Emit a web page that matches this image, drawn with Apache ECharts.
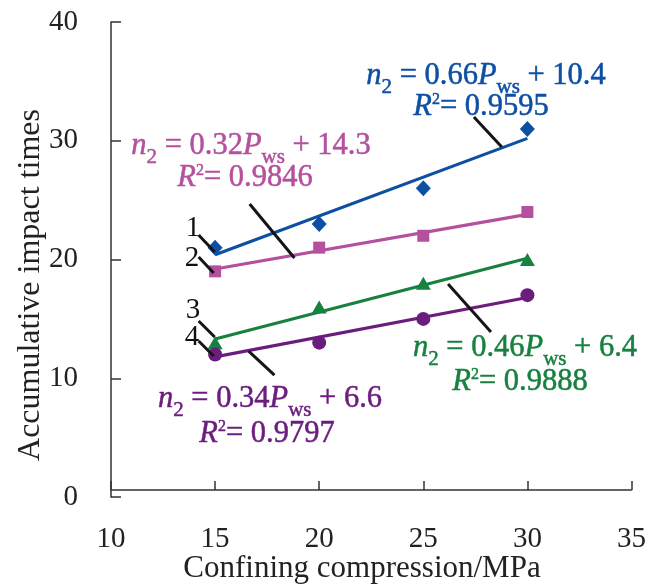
<!DOCTYPE html>
<html>
<head>
<meta charset="utf-8">
<script src="https://cdn.jsdelivr.net/npm/echarts@6/dist/echarts.min.js"></script>
<style>
html,body{margin:0;padding:0;background:#fff;}
#chart{width:649px;height:584px;}
</style>
</head>
<body>
<div id="chart"></div>
<script>
// ---- data ----
const pressure = [15, 20, 25, 30];
const series1 = [21, 23, 26, 31];   // diamonds (blue)
const series2 = [19, 21, 22, 24];   // squares (pink)
const series3 = [13, 16, 18, 20];   // triangles (green)
const series4 = [12, 13, 15, 17];   // circles (purple)
const fitX = [15, 30];
const fit1 = [20.4, 30.2];
const fit2 = [19.2, 23.8];
const fit3 = [13.3, 20.1];
const fit4 = [11.8, 16.8];
// leader lines: [x1, y1, x2, y2] in data units
const leader1 = [27.43, 32.0, 28.77, 29.47];
const leader2 = [16.66, 24.67, 18.81, 20.13];
const leader3 = [26.19, 17.94, 28.25, 13.89];
const leader4 = [16.61, 12.29, 17.85, 10.27];
const tagLeader1 = [14.21, 22.06, 14.98, 20.63];
const tagLeader2 = [14.21, 20.21, 14.93, 18.86];
const tagLeader3 = [14.21, 14.82, 14.98, 13.47];
const tagLeader4 = [14.21, 13.14, 14.93, 11.87];
const seriesTags = ['1', '2', '3', '4'];
const eqSlopes = ['0.66', '0.32', '0.46', '0.34'];
const eqIntercepts = ['10.4', '14.3', '6.4', '6.6'];
const eqR2 = ['0.9595', '0.9846', '0.9888', '0.9797'];

const C1 = '#0d4fa3', C2 = '#b4509d', C3 = '#17813f', C4 = '#6b1d7d';
const FONT = '"Liberation Serif", "Times New Roman", serif';

const pairs = (xs, ys) => xs.map((x, i) => [x, ys[i]]);
const seg = a => ({coords: [[a[0], a[1]], [a[2], a[3]]]});

const EQ = 30.5;
const rich = {
  r: {fontFamily: FONT, fontSize: EQ, lineHeight: 40},
  i: {fontFamily: FONT, fontSize: EQ, fontStyle: 'italic', lineHeight: 40},
  sub: {fontFamily: FONT, fontSize: 21, lineHeight: 18, padding: [22, 0, 0, 0]},
  sup: {fontFamily: FONT, fontSize: 16, lineHeight: 26, padding: [0, 0, 14, 0]}
};
function eqText(k, x, y, color) {
  return {
    type: 'text', x: x, y: y, z: 100,
    style: {
      text: '{i|n}{sub|2}{r| = ' + eqSlopes[k] + '}{i|P}{sub|ws}{r| + ' + eqIntercepts[k] + '}',
      rich: rich, fill: color, stroke: color, lineWidth: 0.5, align: 'center', verticalAlign: 'middle'
    }
  };
}
function r2Text(k, x, y, color) {
  return {
    type: 'text', x: x, y: y, z: 100,
    style: {
      text: '{i|R}{sup|2}{r|= ' + eqR2[k] + '}',
      rich: rich, fill: color, stroke: color, lineWidth: 0.5, align: 'center', verticalAlign: 'middle'
    }
  };
}
function tagText(k, x, y) {
  return {
    type: 'text', x: x, y: y, z: 100,
    style: {text: seriesTags[k], font: '29px ' + FONT, fill: '#111', align: 'center', verticalAlign: 'middle'}
  };
}

const chart = echarts.init(document.getElementById('chart'), null, {renderer: 'canvas'});
const option = {
  animation: false,
  backgroundColor: '#fff',
  grid: {left: 111, right: 16, top: 22, bottom: 87},
  xAxis: {
    type: 'value', min: 10, max: 35, interval: 5, offset: -7,
    axisLine: {onZero: false, lineStyle: {color: '#333', width: 1.5}},
    axisTick: {inside: true, length: 9, lineStyle: {color: '#333', width: 1.5}},
    axisLabel: {fontFamily: FONT, fontSize: 29, color: '#222', margin: 35},
    splitLine: {show: false}
  },
  yAxis: {
    type: 'value', min: 0, max: 40, interval: 10,
    axisLine: {show: true, lineStyle: {color: '#333', width: 1.5}},
    axisTick: {show: true, inside: true, length: 10, lineStyle: {color: '#333', width: 1.5}},
    axisLabel: {fontFamily: FONT, fontSize: 29, color: '#222', margin: 33},
    splitLine: {show: false}
  },
  series: [
    {type: 'line', data: pairs(fitX, fit1), symbol: 'none', lineStyle: {color: C1, width: 3.2}, z: 2},
    {type: 'line', data: pairs(fitX, fit2), symbol: 'none', lineStyle: {color: C2, width: 3.2}, z: 2},
    {type: 'line', data: pairs(fitX, fit3), symbol: 'none', lineStyle: {color: C3, width: 3.2}, z: 2},
    {type: 'line', data: pairs(fitX, fit4), symbol: 'none', lineStyle: {color: C4, width: 3.2}, z: 2},
    {type: 'scatter', data: pairs(pressure, series1), symbol: 'diamond', symbolSize: [15, 16], itemStyle: {color: C1, opacity: 1}, z: 3},
    {type: 'scatter', data: pairs(pressure, series2), symbol: 'rect', symbolSize: 12, itemStyle: {color: C2, opacity: 1}, z: 3},
    {type: 'scatter', data: pairs(pressure, series3), symbol: 'triangle', symbolSize: [15, 13], itemStyle: {color: C3, opacity: 1}, z: 3},
    {type: 'scatter', data: pairs(pressure, series4), symbol: 'circle', symbolSize: 14, itemStyle: {color: C4, opacity: 1}, z: 3},
    {type: 'lines', coordinateSystem: 'cartesian2d', z: 4,
      lineStyle: {color: '#151515', width: 3, opacity: 1},
      data: [leader1, leader2, leader3, leader4, tagLeader1, tagLeader2, tagLeader3, tagLeader4].map(seg)}
  ],
  graphic: [
    {type: 'text', x: 362, y: 569, style: {text: 'Confining compression/MPa', font: '31px ' + FONT, fill: '#222', align: 'center', verticalAlign: 'middle'}},
    {type: 'text', x: 31, y: 285, rotation: Math.PI / 2, style: {text: 'Accumulative impact times', font: '32px ' + FONT, fill: '#222', align: 'center', verticalAlign: 'middle'}},
    eqText(0, 486, 76, C1), r2Text(0, 481, 107, C1),
    eqText(1, 251, 146, C2), r2Text(1, 245, 178, C2),
    eqText(2, 525, 348, C3), r2Text(2, 520, 382, C3),
    eqText(3, 270, 399, C4), r2Text(3, 267, 434, C4),
    tagText(0, 193, 228), tagText(1, 192, 258), tagText(2, 193, 310), tagText(3, 192, 337)
  ]
};
chart.setOption(option);
</script>
</body>
</html>
